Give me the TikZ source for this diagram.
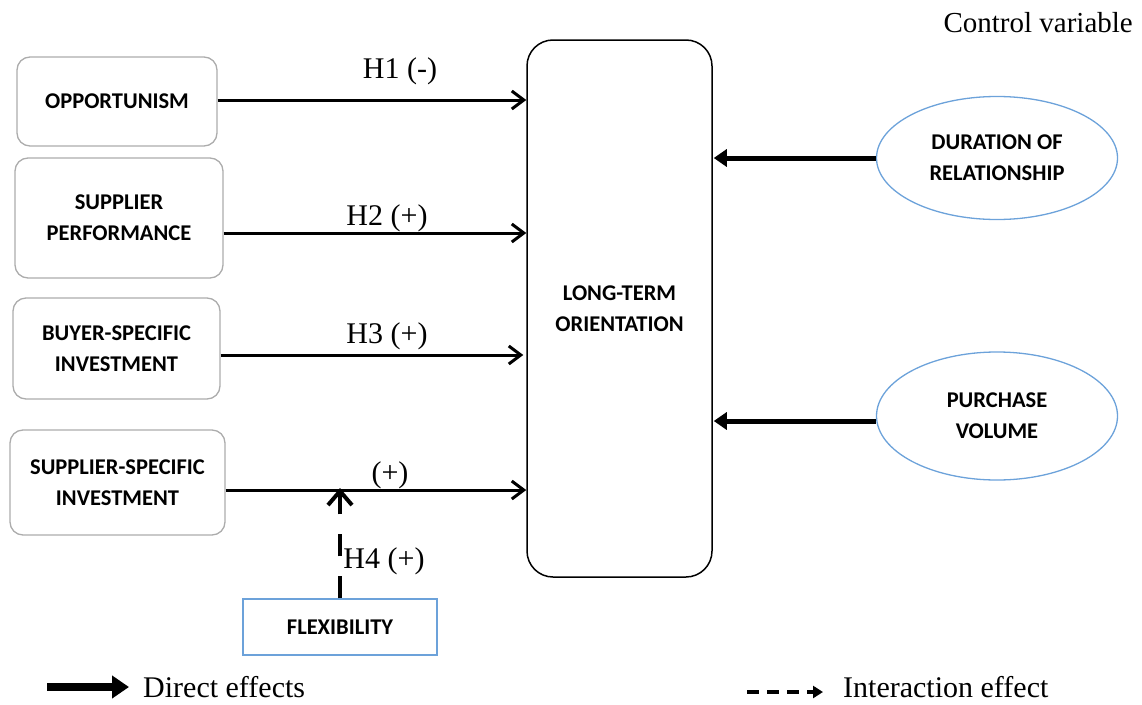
\documentclass[tikz,border=0pt]{standalone}
\usepackage{fontspec}
\setmainfont{Liberation Serif}
\newfontfamily\boxfont{Carlito}
\usetikzlibrary{arrows.meta,shapes.geometric,calc}
\definecolor{bluec}{RGB}{108,162,218}
\definecolor{grayc}{RGB}{172,172,172}
\begin{document}
\begin{tikzpicture}[x=1pt,y=-1pt,
  lab/.style={font=\boxfont\bfseries\fontsize{22.5}{31}\selectfont, align=center},
  box/.style={lab, draw=grayc, line width=1.3pt, rounded corners=13pt, inner sep=0pt},
  ctrl/.style={lab, ellipse, draw=bluec, line width=1.3pt, inner sep=0pt, minimum width=241pt},
  hyp/.style={font=\fontsize{30}{32}\selectfont, inner sep=0pt, anchor=base},
  direct/.style={line width=3pt, -{Straight Barb[length=12pt,width=18pt]}},
  control/.style={line width=5pt, -{Triangle[length=13pt,width=17pt]}},
  interact/.style={line width=4.5pt, dash pattern=on 22pt off 20pt, -{Straight Barb[length=14pt,width=24pt,line width=4pt]}},
  legtext/.style={font=\fontsize{30}{32}\selectfont, inner sep=0pt, anchor=base west}
]
\useasboundingbox (0,0) rectangle (1142,704);

% left boxes
\node[box, minimum width=200pt, minimum height=89pt] (opp) at (117,101.5) {OPPORTUNISM};
\node[box, minimum width=208pt, minimum height=120pt] (sp) at (119,218) {SUPPLIER\\PERFORMANCE};
\node[box, minimum width=207pt, minimum height=101pt] (bsi) at (116.5,348.5) {BUYER-SPECIFIC\\INVESTMENT};
\node[box, minimum width=215pt, minimum height=105pt] (ssi) at (117.5,482.5) {SUPPLIER-SPECIFIC\\INVESTMENT};

% central box
\node[lab, draw=black, line width=1.5pt, rounded corners=26pt, minimum width=185pt, minimum height=537pt, inner sep=0pt] (lto) at (619.5,308.5) {LONG-TERM\\ORIENTATION};

% control variables
\node[ctrl, minimum height=123pt] (dur) at (997,158) {DURATION OF\\RELATIONSHIP};
\node[ctrl, minimum height=128pt] (pur) at (997,416) {PURCHASE\\VOLUME};
\node[font=\fontsize{29}{32}\selectfont, inner sep=0pt, anchor=base east] (cv) at (1133,32) {Control variable};

% moderator
\node[lab, draw=bluec, line width=1.3pt, minimum width=194pt, minimum height=56pt, inner sep=0pt] (flex) at (340,627) {FLEXIBILITY};

% helper coordinates
\coordinate (y1) at (0,100);
\coordinate (y2) at (0,233);
\coordinate (y3) at (0,355);
\coordinate (y4) at (0,490);
\coordinate (yd) at (0,158);
\coordinate (yp) at (0,421);

% direct arrows
\draw[direct] (opp.east |- y1) -- (lto.west |- y1);
\draw[direct] (sp.east |- y2) -- (lto.west |- y2);
\draw[direct] (bsi.east |- y3) -- ([xshift=-3pt]lto.west |- y3);
\draw[direct] (ssi.east |- y4) -- (lto.west |- y4);

% control arrows
\draw[control] (dur.west |- yd) -- ([xshift=1pt]lto.east |- yd);
\draw[control] (pur.west |- yp) -- ([xshift=1pt]lto.east |- yp);

% interaction arrow
\coordinate (mod) at ([yshift=2pt]flex.north |- y4);
\draw[interact] (flex.north) -- (mod);

% hypothesis labels
\node[hyp] (h1) at (400,78) {H1 (-)};
\node[hyp] (h2) at (387,225) {H2 (+)};
\node[hyp] (h3) at (387,343) {H3 (+)};
\node[hyp] (h4a) at (390,482) {(+)};
\node[hyp] (h4) at (384,568) {H4 (+)};

% legend
\coordinate (la) at (47,687);
\coordinate (lb) at (129,687);
\draw[line width=8pt, -{Triangle[length=17pt,width=22pt]}] (la) -- (lb);
\node[legtext] (lt1) at (143,697) {Direct effects};
\coordinate (lc) at (747,692);
\coordinate (ld) at (823,692);
\draw[line width=4pt, dash pattern=on 12pt off 8pt, -{Triangle[length=10pt,width=12pt]}] (lc) -- (ld);
\node[legtext] (lt2) at (843,697) {Interaction effect};
\end{tikzpicture}
\end{document}
